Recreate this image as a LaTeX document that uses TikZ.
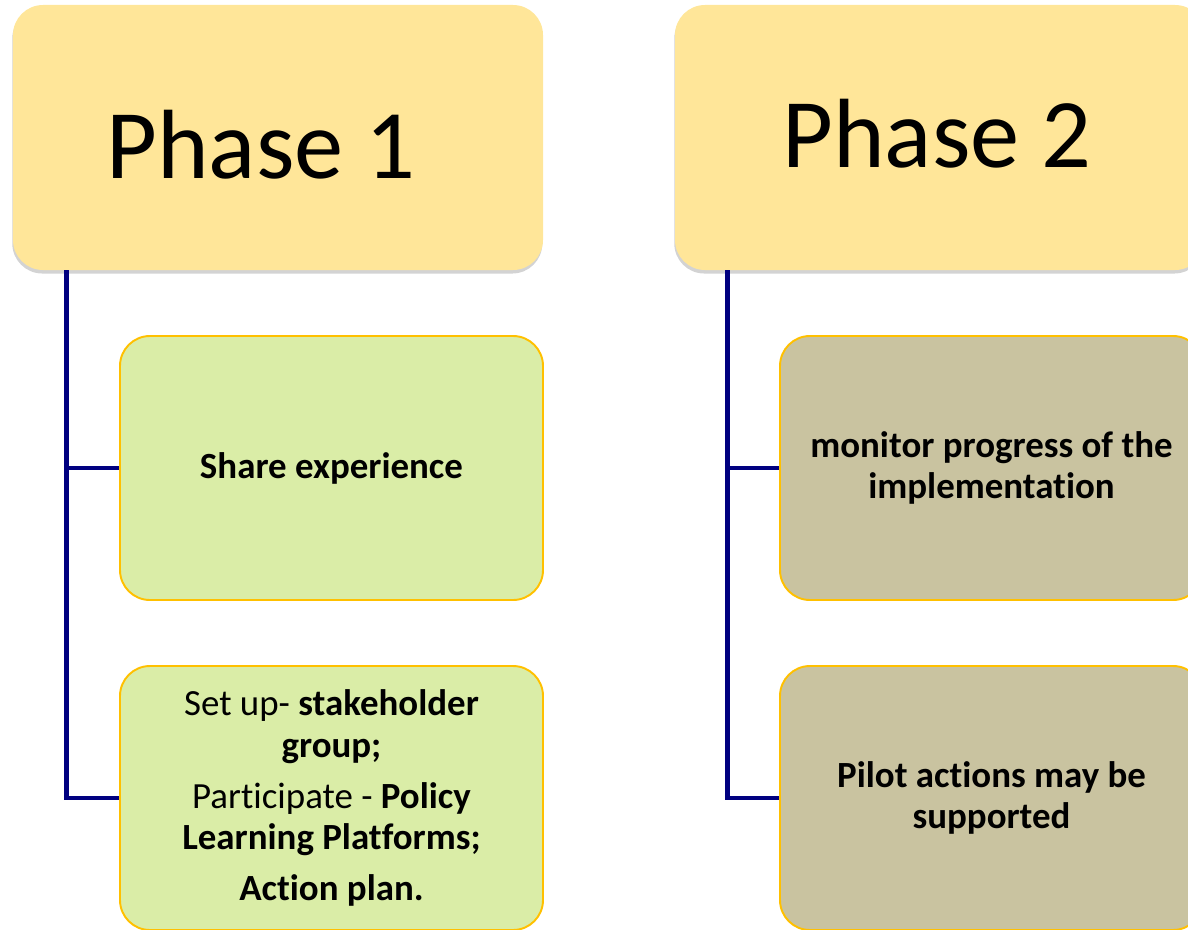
\documentclass[tikz,border=0pt]{standalone}
\usepackage{fontspec}
\setmainfont{Carlito}[Ligatures=NoCommon]
\usetikzlibrary{shadows}
\definecolor{phaseyellow}{HTML}{FFE699}
\definecolor{stepgreen}{HTML}{DAEDA7}
\definecolor{stepolive}{HTML}{C9C3A0}
\definecolor{stepborder}{HTML}{FFC000}
\definecolor{trunkblue}{HTML}{000080}
\tikzset{%
 phasebox/.style={rectangle, rounded corners=6mm, fill=phaseyellow,
   minimum width=10.6cm, minimum height=5.3cm, inner sep=0pt,
   drop shadow={shadow xshift=-0.4pt, shadow yshift=-2pt, opacity=.35}},
 phaselabel/.style={inner sep=0pt, font=\fontsize{56}{60}\selectfont},
 stepbox/.style={rectangle, rounded corners=6mm, draw=stepborder, line width=1.1pt,
   minimum width=8.46cm, minimum height=5.28cm, align=center,
   font=\fontsize{21}{23.8}\selectfont},
 trunk/.style={draw=trunkblue, line width=2.8pt}
}

\begin{document}
\begin{tikzpicture}[x=0.2mm, y=-0.2mm]
 \clip (0,0) rectangle (1188,929);
 % phase headers
 \node [phasebox] (p1) at (278,137.5) {};
 \node [phaselabel, anchor=base] (p1label) at (261,178) {Phase 1};
 \node [phasebox] (p2) at (940,137.5) {};
 \node [phaselabel, anchor=base] (p2label) at (937,167) {Phase 2};

 % steps of phase 1
 \node [stepbox, fill=stepgreen] (share) at (331.5,468) {\textbf{Share experience}};
 \node [stepbox, fill=stepgreen] (setup) at (331.5,798)
  {Set up- \textbf{stakeholder}\\ \textbf{group;}\\[5pt]
   Participate - \textbf{Policy}\\ \textbf{Learning Platforms;}\\[5pt]
   \textbf{Action plan.}};

 % steps of phase 2
 \node [stepbox, fill=stepolive] (monitor) at (991.5,468)
  {\textbf{monitor progress of the}\\ \textbf{implementation}};
 \node [stepbox, fill=stepolive] (pilot) at (991.5,798)
  {\textbf{Pilot actions may be}\\ \textbf{supported}};

 % connectors
 \draw [trunk] ([xshift=1.08cm]p1.south west) |- (share.west);
 \draw [trunk] ([xshift=1.08cm]p1.south west) |- (setup.west);
 \draw [trunk] ([xshift=1.06cm]p2.south west) |- (monitor.west);
 \draw [trunk] ([xshift=1.06cm]p2.south west) |- (pilot.west);
\end{tikzpicture}
\end{document}
